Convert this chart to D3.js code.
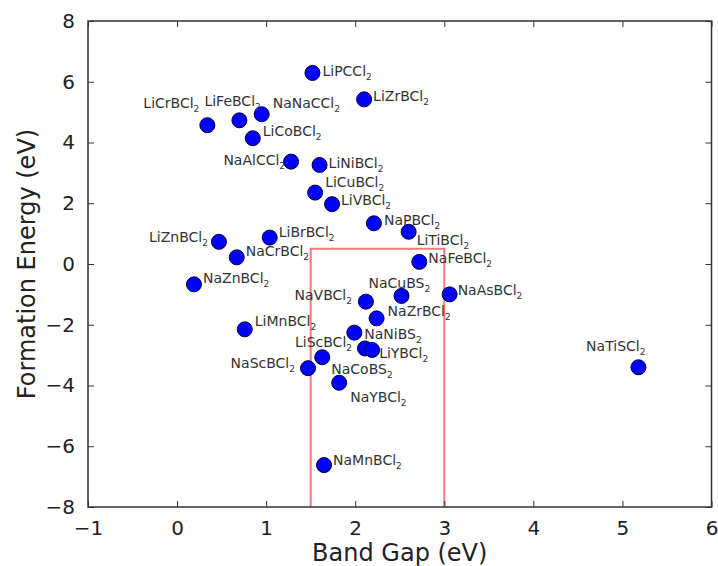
<!DOCTYPE html>
<html>
<head>
<meta charset="utf-8">
<script src="https://cdn.jsdelivr.net/npm/d3@7"></script>
<style>
  html, body { margin: 0; padding: 0; background: #fff; }
  svg { display: block; font-family: "DejaVu Sans", sans-serif; }
</style>
</head>
<body>
<svg id="chart" width="718" height="566"></svg>
<script>
// ---- data ----
const names = ["LiPCCl2","LiZrBCl2","LiCrBCl2","LiFeBCl2","NaNaCCl2","LiCoBCl2","NaAlCCl2","LiNiBCl2",
  "LiCuBCl2","LiVBCl2","NaPBCl2","LiTiBCl2","NaFeBCl2","NaAsBCl2","LiZnBCl2","LiBrBCl2","NaCrBCl2",
  "NaZnBCl2","NaVBCl2","NaCuBS2","NaZrBCl2","LiMnBCl2","NaNiBS2","LiScBCl2","LiYBCl2","NaCoBS2",
  "NaScBCl2","NaYBCl2","NaMnBCl2","NaTiSCl2"];
const bandGap = [1.52,2.10,0.34,0.70,0.95,0.85,1.28,1.60,1.55,1.74,2.21,2.60,2.72,3.06,0.47,1.04,0.67,
  0.19,2.12,2.52,2.24,0.76,1.99,2.11,2.19,1.63,1.47,1.82,1.65,5.18];
const formationEnergy = [6.29,5.42,4.57,4.73,4.93,4.14,3.37,3.26,2.35,1.97,1.34,1.06,0.07,-1.00,0.73,0.87,0.22,
  -0.67,-1.24,-1.05,-1.79,-2.15,-2.26,-2.78,-2.83,-3.07,-3.43,-3.91,-6.62,-3.40];
const xTicks = [-1,0,1,2,3,4,5,6];
const yTicks = [-8,-6,-4,-2,0,2,4,6,8];
const windowX = [1.5, 3.0];
const windowY = [-8, 0.5];

// ---- label layout (pixel offsets of each annotation from its marker) ----
const labelLayout = [
  [10,3,"start"],[9,2,"start"],[-8,-17,"end"],[-35,-14,"start"],[11,-6,"start"],[10,-2,"start"],
  [-6,3,"end"],[9,3,"start"],[10,-6,"start"],[9,1,"start"],[10,2,"start"],[8,13,"start"],
  [9,1,"start"],[8,1,"start"],[-11,0,"end"],[9,-1,"start"],[9,-1,"start"],[9,-1,"start"],
  [-14,-2,"end"],[-33,-8,"start"],[11,-2,"start"],[10,-3,"start"],[10,6,"start"],[-13,-1,"end"],
  [7,8,"start"],[9,17,"start"],[-13,0,"end"],[11,19,"start"],[9,0,"start"],[7,-16,"end"]
];

const svg = d3.select("#chart");
const m = {left: 88, right: 711.5, top: 21, bottom: 507};
const x = d3.scaleLinear().domain([-1, 6]).range([m.left, m.right]);
const y = d3.scaleLinear().domain([-8, 8]).range([m.bottom, m.top]);

const axisColor = "#333";
const tickLen = 6;

// red window
svg.append("path")
  .attr("d", `M${x(windowX[0])},${y(windowY[0])}V${y(windowY[1])}H${x(windowX[1])}V${y(windowY[0])}`)
  .attr("fill", "none").attr("stroke", "#f47a7a").attr("stroke-width", 2);

// axes frame
svg.append("rect")
  .attr("x", m.left).attr("y", m.top)
  .attr("width", m.right - m.left).attr("height", m.bottom - m.top)
  .attr("fill", "none").attr("stroke", axisColor).attr("stroke-width", 1.5);

// axes with inward ticks
const fmt = d => d < 0 ? "\u2212" + Math.abs(d) : String(d);
const styleAxis = g => {
  g.select(".domain").remove();
  g.selectAll(".tick line").attr("stroke", axisColor).attr("stroke-width", 1);
  g.selectAll(".tick text").attr("fill", "#222").style("font-size", "20px")
    .style("font-family", "'DejaVu Sans', sans-serif");
};
svg.append("g").attr("transform", `translate(0,${m.bottom})`)
  .call(d3.axisBottom(x).tickValues(xTicks).tickFormat(fmt).tickSizeInner(-tickLen).tickSizeOuter(0).tickPadding(14))
  .call(styleAxis);
svg.append("g").attr("transform", `translate(0,${m.top})`)
  .call(d3.axisTop(x).tickValues(xTicks).tickFormat("").tickSizeInner(-tickLen).tickSizeOuter(0))
  .call(styleAxis);
svg.append("g").attr("transform", `translate(${m.left},0)`)
  .call(d3.axisLeft(y).tickValues(yTicks).tickFormat(fmt).tickSizeInner(-tickLen).tickSizeOuter(0).tickPadding(13))
  .call(styleAxis);
svg.append("g").attr("transform", `translate(${m.right},0)`)
  .call(d3.axisRight(y).tickValues(yTicks).tickFormat("").tickSizeInner(-tickLen).tickSizeOuter(0))
  .call(styleAxis);

// axis titles
svg.append("text").attr("x", (m.left + m.right) / 2).attr("y", 561)
  .attr("text-anchor", "middle").attr("fill", "#222").style("font-size", "24px")
  .text("Band Gap (eV)");
svg.append("text").attr("transform", `translate(35,${(m.top + m.bottom) / 2}) rotate(-90)`)
  .attr("text-anchor", "middle").attr("fill", "#222").style("font-size", "24px")
  .text("Formation Energy (eV)");

// points
const pts = names.map((n, i) => ({name: n, bg: bandGap[i], fe: formationEnergy[i], lay: labelLayout[i]}));
svg.append("g").selectAll("circle").data(pts).join("circle")
  .attr("cx", d => x(d.bg)).attr("cy", d => y(d.fe)).attr("r", 7.5)
  .attr("fill", "#0000ff").attr("stroke", "#000033").attr("stroke-width", 1);

// labels with subscript
const lbl = svg.append("g").selectAll("text").data(pts).join("text")
  .attr("x", d => x(d.bg) + d.lay[0]).attr("y", d => y(d.fe) + d.lay[1])
  .attr("text-anchor", d => d.lay[2])
  .attr("fill", "#333").style("font-size", "14px");
lbl.append("tspan").text(d => d.name.slice(0, -1));
lbl.append("tspan").attr("dy", 4).style("font-size", "9px").text(d => d.name.slice(-1));
</script>
</body>
</html>
